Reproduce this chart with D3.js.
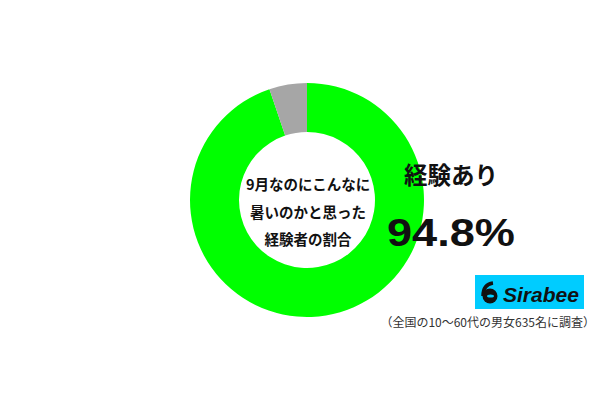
<!DOCTYPE html>
<html><head><meta charset="utf-8">
<script src="https://cdn.jsdelivr.net/npm/d3@7"></script>
<style>body{margin:0;background:#fff;}svg{display:block;font-family:"Noto Sans CJK JP","Noto Sans",sans-serif;}</style>
</head><body>
<svg id="c" width="600" height="400"></svg>
<script>
const categories = ["経験あり", "経験なし"];
const values = [94.8, 5.2];
const colors = ["#00ff00", "#a6a6a6"];
const centerLines = ["9月なのにこんなに", "暑いのかと思った", "経験者の割合"];
const highlightLabel = "経験あり";
const highlightValue = "94.8%";
const footnote = "（全国の10〜60代の男女635名に調査）";

const svg = d3.select("#c");
const cx = 307, cy = 200, rOuter = 117, rInner = 68;
const g = svg.append("g").attr("transform", `translate(${cx},${cy})`);
const pie = d3.pie().sort(null).value(d => d)(values);
const arc = d3.arc().innerRadius(rInner).outerRadius(rOuter);
const color = d3.scaleOrdinal().domain(categories).range(colors);
g.selectAll("path").data(pie).join("path")
  .attr("d", arc).attr("fill", (d, i) => color(categories[i]));

g.selectAll("text.c").data(centerLines).join("text")
  .attr("class", "c").attr("x", 1).attr("y", (d, i) => -15 + i * 27.5 + 5)
  .attr("text-anchor", "middle").attr("font-size", 14.5).attr("font-weight", 600)
  .attr("fill", "#111").text(d => d);

svg.append("text").attr("x", 451).attr("y", 184).attr("text-anchor", "middle")
  .attr("font-size", 23.5).attr("font-weight", 700).attr("fill", "#111").text(highlightLabel);
svg.append("text").attr("x", 387).attr("y", 246)
  .attr("font-family", "Liberation Sans, Arial, sans-serif")
  .attr("font-size", 38).attr("font-weight", 700).attr("fill", "#111")
  .attr("textLength", 128).attr("lengthAdjust", "spacingAndGlyphs").text(highlightValue);

// logo
const lg = svg.append("g");
lg.append("rect").attr("x", 475).attr("y", 275).attr("width", 109).attr("height", 34).attr("fill", "#00ccff");
lg.append("circle").attr("cx", 490).attr("cy", 296).attr("r", 7.5).attr("fill", "#111");
lg.append("path").attr("d", "M483,296 C483,288 486,284 493,283").attr("stroke", "#111").attr("stroke-width", 3.5).attr("fill", "none");
lg.append("ellipse").attr("cx", 490.5).attr("cy", 296).attr("rx", 3.5).attr("ry", 1.6).attr("fill", "#00ccff");
lg.append("text").attr("x", 503).attr("y", 302).attr("font-family", "Liberation Sans, Arial, sans-serif")
  .attr("font-size", 20).attr("font-weight", 700).attr("font-style", "italic").attr("fill", "#111")
  .attr("textLength", 76).attr("lengthAdjust", "spacingAndGlyphs").text("Sirabee");

svg.append("text").attr("x", 595).attr("y", 327).attr("text-anchor", "end")
  .attr("font-size", 12).attr("fill", "#333").text(footnote);
</script>
</body></html>
